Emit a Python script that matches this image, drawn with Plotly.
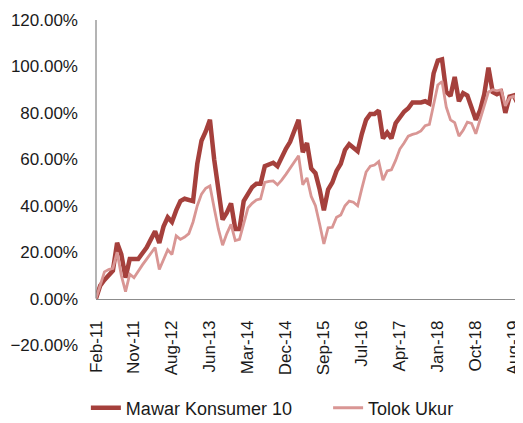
import plotly.graph_objects as go

tick_labels = ["Feb-11", "Nov-11", "Aug-12", "Jun-13", "Mar-14", "Dec-14",
               "Sep-15", "Jul-16", "Apr-17", "Jan-18", "Oct-18", "Aug-19"]
tick_index = [0, 9, 18, 27, 36, 45, 54, 63, 72, 81, 90, 99]

mawar = [0, 5.6, 8, 10, 12, 24, 19, 9, 17, 17,
         17, 19.5, 22, 25.5, 29, 24, 31, 35, 33, 38,
         42, 43, 42.5, 42, 58, 68, 72, 77, 60, 45,
         34, 37, 41, 30, 30, 42, 45.5, 48, 49.5, 49.5,
         57, 57.5, 58.5, 57, 61, 64.5, 67.5, 73, 77, 63,
         67, 56, 54, 47, 38, 47, 50, 55, 58, 64,
         66.5, 65, 63.5, 71, 77, 79.5, 79.5, 81, 69, 71.5,
         69, 75.5, 78, 80.5, 82, 84.5, 84.5, 84.5, 85, 84,
         97, 102.5, 103, 89, 87.3, 95.5, 85, 88.5, 87.5, 82,
         77, 81, 88, 99.5, 89, 88, 89, 80, 87, 87.5, 83.7]

tolok = [0, 6, 11.5, 12.5, 13, 20, 10, 3, 10.5, 9,
         12, 14.5, 17, 19.5, 22, 12.5, 17, 21, 19, 27,
         25.5, 26.5, 28, 33, 40, 45, 47.5, 48.5, 39, 30,
         23, 28, 32, 25, 25.5, 32, 39, 41, 42.5, 43,
         50, 50.5, 50.7, 49, 51, 53.5, 56, 59, 61.5, 49,
         52, 44, 40, 32, 23.5, 30.5, 30.7, 35, 36, 40,
         42, 41.5, 40, 47.5, 54.5, 57, 57.5, 59, 51, 55,
         55.5, 59.5, 64.4, 67, 70, 70.7, 71.2, 72.2, 74.5, 75,
         83, 92, 93.5, 82.5, 77, 75.8, 70, 72.5, 76, 75.5,
         71, 77, 83, 89, 90, 89.5, 90, 83, 86.6, 87.2, 84.5]

idx = list(range(len(mawar)))
mawar_frac = [v / 100 for v in mawar]
tolok_frac = [v / 100 for v in tolok]

dark = "#A5403C"
light = "#D99694"
axis_grey = "#8C8C8C"
font_family = "Liberation Sans, Arial, sans-serif"

fig = go.Figure()
fig.add_trace(go.Scatter(x=idx, y=mawar_frac, mode="lines", name="Mawar Konsumer 10",
                         line=dict(color=dark, width=4.5), legend="legend"))
fig.add_trace(go.Scatter(x=idx, y=tolok_frac, mode="lines", name="Tolok Ukur",
                         line=dict(color=light, width=2.8), legend="legend2"))

fig.add_shape(type="line", xref="paper", yref="y", x0=0, x1=0, y0=0, y1=1.2,
              line=dict(color=axis_grey, width=1.3))

legend_style = dict(orientation="h", xanchor="left", y=-0.194, yanchor="middle",
                    font=dict(size=18), bgcolor="rgba(0,0,0,0)")

# page body has an 8px default margin, so the figure is sized/offset to compensate
fig.update_layout(
    width=515, height=415,
    margin=dict(l=88, r=5, t=11.5, b=78.2, autoexpand=False),
    paper_bgcolor="white", plot_bgcolor="white",
    font=dict(family=font_family, size=17, color="#1a1a1a"),
    showlegend=True,
    legend=dict(x=-0.024, **legend_style),
    legend2=dict(x=0.55, **legend_style),
    xaxis=dict(range=[0, 100], tickmode="array", tickvals=tick_index, ticktext=tick_labels,
               tickangle=-90, showgrid=False, zeroline=False, showline=True,
               linecolor=axis_grey, linewidth=1.3, anchor="free", position=20 / 140,
               ticks="", ticklabelstandoff=14, automargin=False, ticklabeloverflow="allow"),
    yaxis=dict(range=[-0.2, 1.2], tickvals=[-0.2, 0, 0.2, 0.4, 0.6, 0.8, 1.0, 1.2],
               tickformat=".2%", showgrid=False, zeroline=False, showline=False,
               ticks="", ticklabelstandoff=17, automargin=False),
)

fig.write_html("out.html")
